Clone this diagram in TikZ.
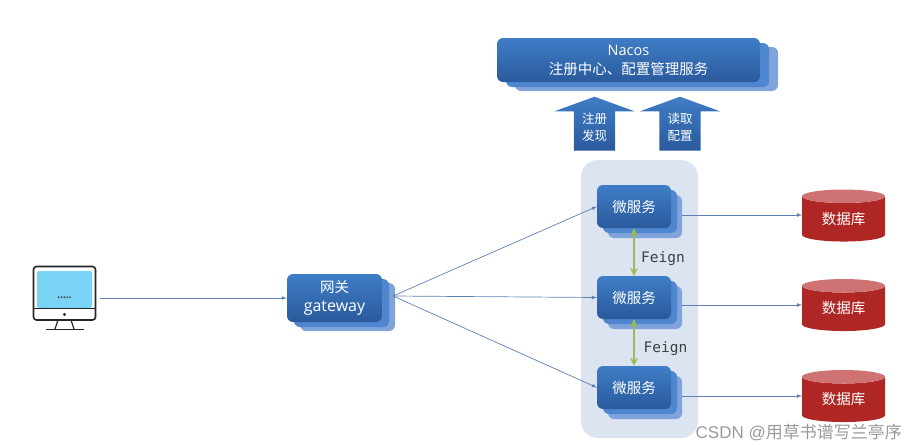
\documentclass[tikz,border=0pt]{standalone}
\usepackage{fontspec}
\setmainfont{Noto Sans CJK SC}
\newfontfamily\latinfont{Open Sans}
\newfontfamily\monofont{DejaVu Sans Mono}
\newfontfamily\markfont{Liberation Sans}
\usetikzlibrary{arrows}
\usetikzlibrary{shadows}
\usetikzlibrary{shapes.geometric}
\usetikzlibrary{shapes.arrows}
\definecolor{boxtop}{HTML}{3F7DC6}
\definecolor{boxbottom}{HTML}{2A5A9C}
\definecolor{layermid}{HTML}{4F86D0}
\definecolor{layerback}{HTML}{7FA3DA}
\definecolor{panelblue}{HTML}{DBE4F0}
\definecolor{dbred}{HTML}{AE2724}
\definecolor{dbtop}{HTML}{CF7274}
\definecolor{flowblue}{HTML}{5C80B4}
\definecolor{feigngreen}{HTML}{9BBB59}
\definecolor{screenblue}{HTML}{79D3F5}
\tikzset{
  basebox/.style={rounded corners=6pt, top color=boxtop, bottom color=boxbottom, text=white, align=center, inner sep=0pt},
  nacosbox/.style={basebox, font=\fontsize{14.5}{19}\selectfont,
    copy shadow={shadow xshift=18pt, shadow yshift=-9pt, fill=layerback, draw=none},
    copy shadow={shadow xshift=9pt, shadow yshift=-5pt, fill=layermid, draw=none}},
  gatebox/.style={basebox, font=\fontsize{14.5}{19}\selectfont,
    copy shadow={shadow xshift=13pt, shadow yshift=-9pt, fill=layerback, draw=none},
    copy shadow={shadow xshift=7pt, shadow yshift=-5pt, fill=layermid, draw=none}},
  msbox/.style={basebox, minimum width=74pt, minimum height=43pt, font=\fontsize{14.5}{16}\selectfont,
    copy shadow={shadow xshift=11pt, shadow yshift=-10pt, fill=layerback, draw=none},
    copy shadow={shadow xshift=6pt, shadow yshift=-5pt, fill=layermid, draw=none}},
  dbnode/.style={cylinder, shape border rotate=90, aspect=0.31, minimum width=83pt, minimum height=52pt, inner sep=0pt,
    cylinder uses custom fill, cylinder body fill=dbred, cylinder end fill=dbtop, text=white, font=\fontsize{14.5}{16}\selectfont},
  uparrow/.style={single arrow, shape border rotate=90, single arrow tip angle=140, single arrow head extend=19.5pt,
    minimum height=54pt, inner xsep=8pt, inner ysep=0pt, top color=boxtop, bottom color=boxbottom, text=white, align=center,
    font=\fontsize{12.5}{17}\selectfont},
  flow/.style={->, >=latex, line width=0.7pt, draw=flowblue},
  feign/.style={<->, >=stealth, line width=2.5pt, draw=feigngreen},
  feignlabel/.style={text=black!75, font=\monofont\fontsize{14.5}{16}\selectfont},
}
\begin{document}
\begin{tikzpicture}[x=1pt, y=-1pt]
  \useasboundingbox (0,0) rectangle (905,447);

  % service group behind the boxes
  \fill[panelblue, rounded corners=17pt] (581,160) rectangle (698,438);

  \node[nacosbox, minimum width=263pt, minimum height=44pt] (nacos) at (628.5,60) {{\latinfont Nacos}\\注册中心、配置管理服务};
  \node[uparrow] (register) at (594.5,127.5) {注册\\发现};
  \node[uparrow] (readcfg) at (680,127.5) {读取\\配置};

  \node[gatebox, minimum width=95pt, minimum height=48pt] (gateway) at (334.5,298) {网关\\{\latinfont\fontsize{16}{19}\selectfont gateway}};

  \node[msbox] (msA) at (634,206.5) {微服务};
  \node[msbox] (msB) at (634,297.5) {微服务};
  \node[msbox] (msC) at (634,387.5) {微服务};

  \node[dbnode] (dbA) at (843.5,219) {数据库};
  \node[dbnode] (dbB) at (843.5,308.5) {数据库};
  \node[dbnode] (dbC) at (843.5,399.5) {数据库};

  % monitor
  \filldraw[draw=black!85, fill=white, line width=1.6pt, rounded corners=3pt] (33.5,266.5) rectangle (95.5,320);
  \fill[screenblue, rounded corners=2pt] (37,271) rectangle (92,308);
  \draw[black!85, line width=1.4pt] (33.5,308.5) -- (95.5,308.5);
  \fill[black!85] (64.5,314.5) circle (1.6pt);
  \draw[black!85, line width=1.2pt] (58,320) -- (55,329) (71,320) -- (74,329);
  \draw[black!85, line width=1.4pt] (46,329.5) -- (84,329.5);
  \node[inner sep=0pt, text=black!80, font=\bfseries\fontsize{8}{8}\selectfont] (dots) at (64.5,298) {.....};

  \coordinate (clientout) at (100,298);
  \coordinate (gatewayout) at (393,296);

  \draw[flow] (clientout) -- (gateway.west);
  \draw[flow] (gatewayout) -- (msA.west);
  \draw[flow] (gatewayout) -- (msB.west);
  \draw[flow] (gatewayout) -- (msC.west);
  \draw[flow, shorten <=11pt] ([yshift=4pt]msA.east |- dbA.center) -- ([yshift=4pt]dbA.center -| 802,0);
  \draw[flow, shorten <=11pt] ([yshift=3.5pt]msB.east |- dbB.center) -- ([yshift=3.5pt]dbB.center -| 802,0);
  \draw[flow, shorten <=11pt] ([yshift=3.5pt]msC.east |- dbC.center) -- ([yshift=3.5pt]dbC.center -| 802,0);

  \draw[feign] (msA.south) -- (msB.north);
  \draw[feign] (msB.south) -- (msC.north);
  \node[feignlabel] (feignA) at (663,259) {Feign};
  \node[feignlabel] (feignB) at (665.5,349) {Feign};

  \node[text=black!40, inner sep=0pt, anchor=east, font=\markfont\fontsize{17}{17}\selectfont] (mark) at (902,432) {CSDN @{\rmfamily 用草书谱写兰亭序}};
\end{tikzpicture}
\end{document}
